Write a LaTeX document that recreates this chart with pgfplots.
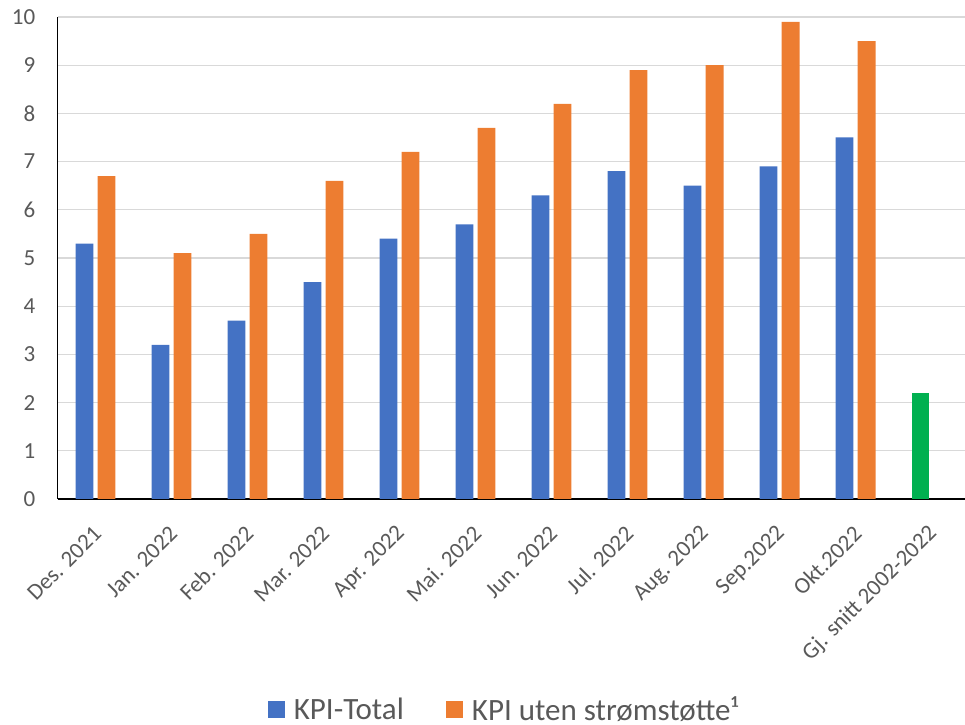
\documentclass[border=0pt]{standalone}
\usepackage{pgfplots}
\pgfplotsset{compat=1.18}
\usepackage{fontspec}
\setmainfont{Carlito}
\definecolor{cblue}{HTML}{4472C4}
\definecolor{corange}{HTML}{ED7D31}
\definecolor{cgreen}{HTML}{00B050}
\definecolor{cgrid}{HTML}{D9D9D9}
\definecolor{ctext}{HTML}{595959}
\begin{document}
\begin{tikzpicture}
\path[use as bounding box] (0,0) rectangle (965bp,725bp);
\begin{axis}[
  at={(57.5bp,226bp)}, anchor=south west,
  scale only axis,
  width=907.5bp, height=482bp,
  xmin=-0.5, xmax=11.44,
  ymin=0, ymax=10,
  ytick={0,1,...,10},
  xtick={0,1,...,11},
  xticklabels={Des. 2021, Jan. 2022, Feb. 2022, Mar. 2022, Apr. 2022, Mai. 2022, Jun. 2022, Jul. 2022, Aug. 2022, Sep.2022, Okt.2022, Gj. snitt 2002-2022},
  axis x line*=bottom, axis y line*=left,
  axis line style={black, line width=1.4bp, -},
  major tick length=0,
  ymajorgrids,
  grid style={cgrid, line width=1.3bp},
  /pgf/number format/assume math mode=true,
  yticklabel style={font=\fontsize{23bp}{27bp}\selectfont, text=ctext, anchor=east, inner sep=0pt, xshift=-22bp},
  xticklabel style={font=\fontsize{23bp}{27bp}\selectfont, text=ctext, xshift=2bp, yshift=-31bp, rotate=45, anchor=east, inner sep=0pt},
  legend style={at={(axis description cs:0.492,-0.437)}, anchor=center, draw=none, fill=none,
    font=\fontsize{31bp}{34bp}\selectfont, text=ctext, legend columns=2,
    /tikz/every odd column/.append style={column sep=7bp},
    /tikz/every even column/.append style={column sep=40bp}},
  legend cell align=left,
]
\addplot[ybar, bar width=0.235, bar shift=-0.145, fill=cblue, draw=none,
  legend image code/.code={\fill[cblue] (0bp,-8.5bp) rectangle (17bp,8.5bp);}]
  coordinates {(0,5.3) (1,3.2) (2,3.7) (3,4.5) (4,5.4) (5,5.7) (6,6.3) (7,6.8) (8,6.5) (9,6.9) (10,7.5)};
\addlegendentry{KPI-Total}
\addplot[ybar, bar width=0.235, bar shift=0.145, fill=corange, draw=none,
  legend image code/.code={\fill[corange] (0bp,-8.5bp) rectangle (17bp,8.5bp);}]
  coordinates {(0,6.7) (1,5.1) (2,5.5) (3,6.6) (4,7.2) (5,7.7) (6,8.2) (7,8.9) (8,9.0) (9,9.9) (10,9.5)};
\addlegendentry{KPI uten strømstøtte¹}
\addplot[ybar, bar width=0.235, bar shift=-0.145, fill=cgreen, draw=none, forget plot]
  coordinates {(11,2.2)};
\end{axis}
\end{tikzpicture}
\end{document}
